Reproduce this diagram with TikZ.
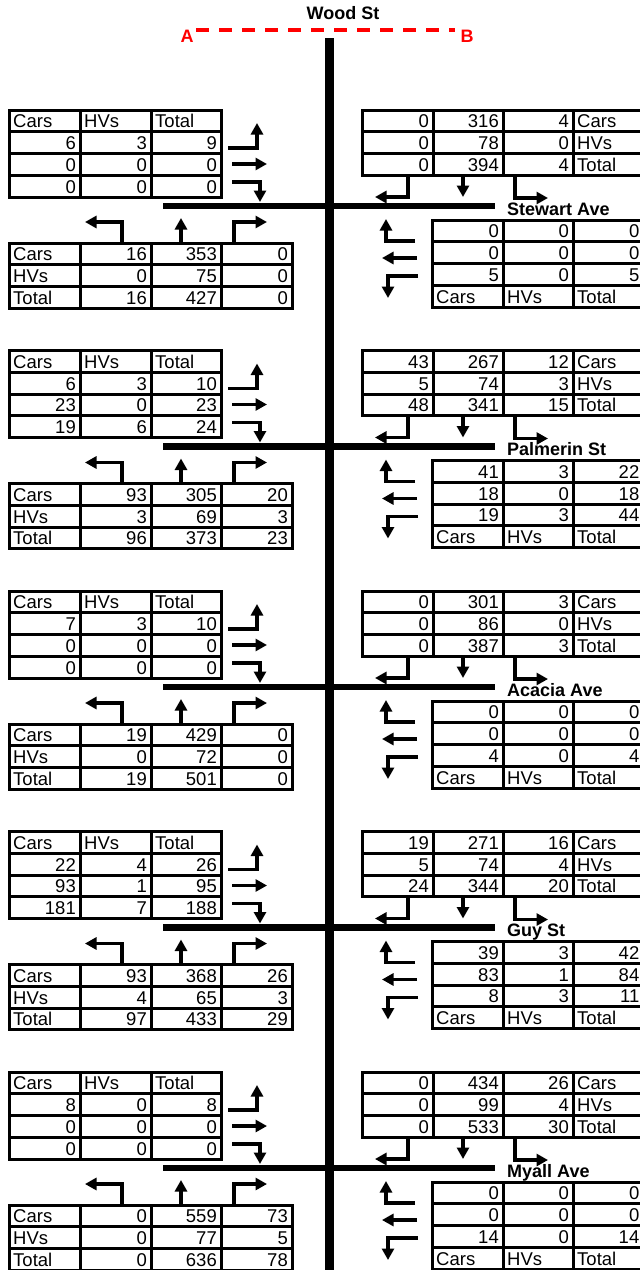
\documentclass[tikz,border=0pt]{standalone}
\usepackage{fontspec}
\setmainfont{Liberation Sans}
\usetikzlibrary{arrows.meta}
\tikzset{
  tab/.style={line width=3pt},
  tl/.style={anchor=base west,inner sep=0pt,font=\fontsize{18.5}{20}\selectfont},
  tr/.style={anchor=base east,inner sep=0pt,font=\fontsize{18.5}{20}\selectfont},
  rname/.style={anchor=base west,inner sep=0pt,font=\fontsize{18}{20}\selectfont\bfseries},
  mainroad/.style={line width=9pt},
  sideroad/.style={line width=6.5pt},
  turn/.style={line width=3.4pt,-{Triangle[length=11.5pt,width=12pt]}},
  ab/.style={text=red,font=\fontsize{18}{20}\selectfont\bfseries,inner sep=0pt},
  cut/.style={red,line width=4pt,dash pattern=on 13pt off 10pt},
}
% #1 id, #2 Y, #3 street name, #4 UL rows, #5 LL rows, #6 UR rows, #7 LR rows
\newcommand\junction[7]{%
\begin{scope}[shift={(0,#2)}]
  % upper-left table
  \foreach \r in {0,1,2,3}{\foreach \xa/\xb in {9/80,80/151,151/221}{%
    \draw[tab] (\xa,-96+21.75*\r) rectangle (\xb,-74.25+21.75*\r);}}
  \node[tl] (#1-ulh1) at (13,-78.25) {Cars};
  \node[tl] (#1-ulh2) at (84,-78.25) {HVs};
  \node[tl] (#1-ulh3) at (155,-78.25) {Total};
  \foreach \a/\b/\c [count=\r] in {#4}{%
    \node[tr] (#1-ul\r-a) at (76,-78.25+21.75*\r) {\a};
    \node[tr] (#1-ul\r-b) at (147,-78.25+21.75*\r) {\b};
    \node[tr] (#1-ul\r-c) at (217,-78.25+21.75*\r) {\c};}
  % lower-left table
  \foreach \r in {0,1,2}{\foreach \xa/\xb in {9/80,80/151,151/221,221/292}{%
    \draw[tab] (\xa,37+21.75*\r) rectangle (\xb,58.75+21.75*\r);}}
  \foreach \lab/\a/\b/\c [count=\r] in {#5}{%
    \node[tl] (#1-ll\r-l) at (13,33+21.75*\r) {\lab};
    \node[tr] (#1-ll\r-a) at (147,33+21.75*\r) {\a};
    \node[tr] (#1-ll\r-b) at (217,33+21.75*\r) {\b};
    \node[tr] (#1-ll\r-c) at (288,33+21.75*\r) {\c};}
  % upper-right table
  \foreach \r in {0,1,2}{\foreach \xa/\xb in {362/433,433/503,503/573,573/644}{%
    \draw[tab] (\xa,-96+21.75*\r) rectangle (\xb,-74.25+21.75*\r);}}
  \foreach \a/\b/\c/\lab [count=\r] in {#6}{%
    \node[tr] (#1-ur\r-a) at (429,-100+21.75*\r) {\a};
    \node[tr] (#1-ur\r-b) at (499,-100+21.75*\r) {\b};
    \node[tr] (#1-ur\r-c) at (569,-100+21.75*\r) {\c};
    \node[tl] (#1-ur\r-l) at (577,-100+21.75*\r) {\lab};}
  % lower-right table
  \foreach \r in {0,1,2,3}{\foreach \xa/\xb in {432/503,503/573,573/644}{%
    \draw[tab] (\xa,14+21.75*\r) rectangle (\xb,35.75+21.75*\r);}}
  \foreach \a/\b/\c [count=\r] in {#7}{%
    \node[tr] (#1-lr\r-a) at (499,10+21.75*\r) {\a};
    \node[tr] (#1-lr\r-b) at (569,10+21.75*\r) {\b};
    \node[tr] (#1-lr\r-c) at (639.5,10+21.75*\r) {\c};}
  \node[tl] (#1-lrh1) at (436,97) {Cars};
  \node[tl] (#1-lrh2) at (507,97) {HVs};
  \node[tl] (#1-lrh3) at (577,97) {Total};
  % side road and name
  \draw[sideroad] (163,0) -- (495,0);
  \node[rname] (#1-name) at (507,9) {#3};
  % eastbound approach (upper-left)
  \draw[turn] (228,-58) -- (257,-58) -- (257,-83);
  \draw[turn] (232,-42) -- (267,-42);
  \draw[turn] (232,-24) -- (260,-24) -- (260,-4);
  % northbound approach (lower-left)
  \draw[turn] (122,37) -- (122,16) -- (85,16);
  \draw[turn] (181,37) -- (181,12);
  \draw[turn] (234,37) -- (234,16) -- (267,16);
  % southbound approach (upper-right)
  \draw[turn] (408,-30.75) -- (408,-9) -- (375,-9);
  \draw[turn] (463,-30.75) -- (463,-9);
  \draw[turn] (515,-30.75) -- (515,-8) -- (548,-8);
  % westbound approach (lower-right)
  \draw[turn] (415,35) -- (386,35) -- (386,13);
  \draw[turn] (417,52) -- (382,52);
  \draw[turn] (418,70) -- (388,70) -- (388,92);
\end{scope}}

\begin{document}
\begin{tikzpicture}[x=1pt,y=-1pt]
\useasboundingbox (0,0) rectangle (640,1270);
\clip (0,0) rectangle (640,1270);
\node[font=\fontsize{18}{20}\selectfont\bfseries,inner sep=0pt] (wood) at (343,13) {Wood St};
\node[ab] (A) at (187,36) {A};
\node[ab] (B) at (467,36) {B};
\coordinate (cutA) at (196,30);
\coordinate (cutB) at (455,30);
\draw[cut] (cutA) -- (cutB);
\coordinate (roadtop) at (329.5,38);
\coordinate (roadend) at (329.5,1275);
\junction{j1}{206}{Stewart Ave}{6/3/9,0/0/0,0/0/0}{Cars/16/353/0,HVs/0/75/0,Total/16/427/0}{0/316/4/Cars,0/78/0/HVs,0/394/4/Total}{0/0/0,0/0/0,5/0/5}
\junction{j2}{446.5}{Palmerin St}{6/3/10,23/0/23,19/6/24}{Cars/93/305/20,HVs/3/69/3,Total/96/373/23}{43/267/12/Cars,5/74/3/HVs,48/341/15/Total}{41/3/22,18/0/18,19/3/44}
\junction{j3}{687}{Acacia Ave}{7/3/10,0/0/0,0/0/0}{Cars/19/429/0,HVs/0/72/0,Total/19/501/0}{0/301/3/Cars,0/86/0/HVs,0/387/3/Total}{0/0/0,0/0/0,4/0/4}
\junction{j4}{927.5}{Guy St}{22/4/26,93/1/95,181/7/188}{Cars/93/368/26,HVs/4/65/3,Total/97/433/29}{19/271/16/Cars,5/74/4/HVs,24/344/20/Total}{39/3/42,83/1/84,8/3/11}
\junction{j5}{1168}{Myall Ave}{8/0/8,0/0/0,0/0/0}{Cars/0/559/73,HVs/0/77/5,Total/0/636/78}{0/434/26/Cars,0/99/4/HVs,0/533/30/Total}{0/0/0,0/0/0,14/0/14}
\draw[mainroad] (roadtop) -- (roadend);
\end{tikzpicture}
\end{document}
